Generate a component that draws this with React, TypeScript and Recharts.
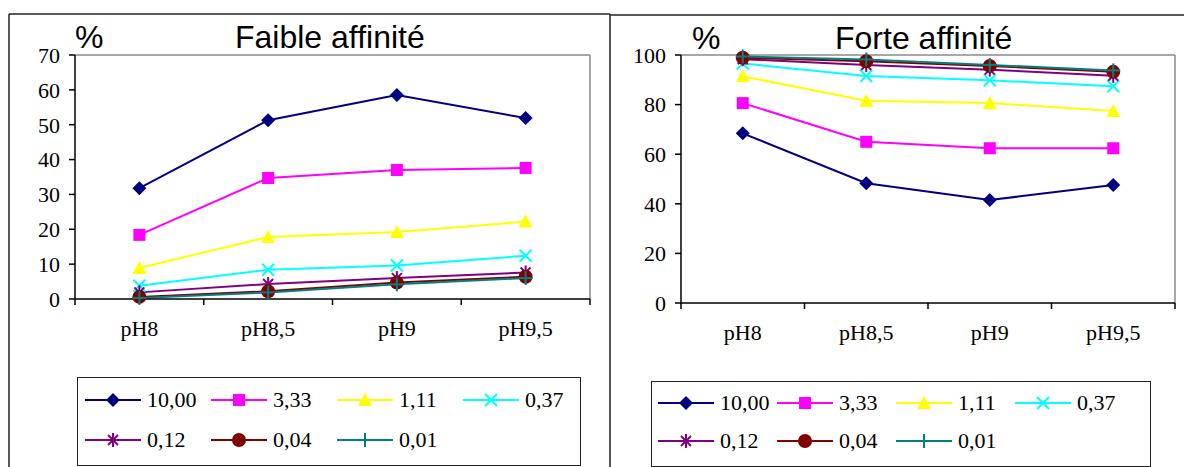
import React from 'react';
import { LineChart, Line, XAxis, YAxis, ReferenceLine } from 'recharts';

const categories = ['pH8', 'pH8,5', 'pH9', 'pH9,5'];
const seriesNames = ['10,00', '3,33', '1,11', '0,37', '0,12', '0,04', '0,01'];
const seriesColors = ['#000080', '#ff00ff', '#ffff00', '#00ffff', '#800080', '#800000', '#008080'];
const seriesShapes = ['diamond', 'square', 'triangle', 'cross', 'star', 'circle', 'plus'];

// Faible affinité (%)
const faible1000 = [31.8, 51.3, 58.5, 51.9];
const faible333 = [18.4, 34.7, 37.0, 37.6];
const faible111 = [8.9, 17.8, 19.2, 22.2];
const faible037 = [3.8, 8.4, 9.6, 12.4];
const faible012 = [1.9, 4.3, 6.0, 7.6];
const faible004 = [0.6, 2.2, 4.7, 6.4];
const faible001 = [0.3, 1.9, 4.2, 6.0];

// Forte affinité (%)
const forte1000 = [68.4, 48.3, 41.5, 47.6];
const forte333 = [80.6, 65.0, 62.4, 62.4];
const forte111 = [91.4, 81.6, 80.6, 77.4];
const forte037 = [96.6, 91.5, 89.8, 87.4];
const forte012 = [98.3, 96.0, 94.1, 91.6];
const forte004 = [98.9, 97.5, 95.6, 93.2];
const forte001 = [99.4, 98.2, 96.0, 93.8];

const faibleTicks = [0, 10, 20, 30, 40, 50, 60, 70];
const forteTicks = [0, 20, 40, 60, 80, 100];

const SERIF = '"Liberation Serif", "Times New Roman", serif';
const SANS = '"Liberation Sans", Arial, sans-serif';

const buildData = (series: number[][]) =>
  categories.map((c, i) => {
    const row: Record<string, number | string> = { x: i + 0.5, cat: c };
    series.forEach((s, k) => {
      row[`s${k}`] = s[i];
    });
    return row;
  });

const faibleData = buildData([faible1000, faible333, faible111, faible037, faible012, faible004, faible001]);
const forteData = buildData([forte1000, forte333, forte111, forte037, forte012, forte004, forte001]);

// category centres sit on the halves, boundary ticks on the integers
const xTicks = [0, 0.5, 1, 1.5, 2, 2.5, 3, 3.5, 4];

function Marker({ shape, color, cx, cy }: { shape: string; color: string; cx: number; cy: number }) {
  switch (shape) {
    case 'diamond':
      return <polygon points={`${cx},${cy - 7} ${cx + 7},${cy} ${cx},${cy + 7} ${cx - 7},${cy}`} fill={color} />;
    case 'square':
      return <rect x={cx - 6} y={cy - 6} width={12} height={12} fill={color} />;
    case 'triangle':
      return <polygon points={`${cx},${cy - 7} ${cx + 7},${cy + 6} ${cx - 7},${cy + 6}`} fill={color} />;
    case 'cross':
      return (
        <g stroke={color} strokeWidth={2}>
          <line x1={cx - 6} y1={cy - 6} x2={cx + 6} y2={cy + 6} />
          <line x1={cx - 6} y1={cy + 6} x2={cx + 6} y2={cy - 6} />
        </g>
      );
    case 'star':
      return (
        <g stroke={color} strokeWidth={2}>
          <line x1={cx - 5} y1={cy - 5} x2={cx + 5} y2={cy + 5} />
          <line x1={cx - 5} y1={cy + 5} x2={cx + 5} y2={cy - 5} />
          <line x1={cx} y1={cy - 7} x2={cx} y2={cy + 7} />
        </g>
      );
    case 'circle':
      return <circle cx={cx} cy={cy} r={7} fill={color} />;
    case 'plus':
      return (
        <g stroke={color} strokeWidth={2}>
          <line x1={cx - 7} y1={cy} x2={cx + 7} y2={cy} />
          <line x1={cx} y1={cy - 7} x2={cx} y2={cy + 7} />
        </g>
      );
    default:
      return null;
  }
}

function XTick(props: any) {
  const { x, y, payload } = props;
  const v = payload.value as number;
  if (Number.isInteger(v)) {
    return <line x1={x} y1={y} x2={x} y2={y + 6} stroke="#000" strokeWidth={1.5} />;
  }
  return (
    <text x={x} y={y + 37} textAnchor="middle" fontFamily={SERIF} fontSize={22} fill="#000">
      {categories[Math.floor(v)]}
    </text>
  );
}

type PanelProps = {
  data: Record<string, number | string>[];
  max: number;
  ticks: number[];
  left: number;
  width: number;
  margin: { top: number; right: number; bottom: number; left: number };
};

function Panel({ data, max, ticks, left, width, margin }: PanelProps) {
  return (
    <div style={{ position: 'absolute', left, top: 0 }}>
      <LineChart width={width} height={370} data={data} margin={margin}>
        <XAxis
          dataKey="x"
          type="number"
          domain={[0, 4]}
          ticks={xTicks}
          interval={0}
          tickSize={0}
          tickMargin={0}
          tickLine={false}
          axisLine={{ stroke: '#000', strokeWidth: 1.5 }}
          tick={<XTick />}
          height={40}
        />
        <YAxis
          domain={[0, max]}
          ticks={ticks}
          interval={0}
          width={60}
          tickSize={6}
          tickMargin={9}
          axisLine={{ stroke: '#000', strokeWidth: 1.5 }}
          tickLine={{ stroke: '#000', strokeWidth: 1.5 }}
          tick={{ fill: '#000', fontSize: 22, fontFamily: SERIF }}
        />
        <ReferenceLine y={max} stroke="#8a8a8a" strokeWidth={1.5} />
        <ReferenceLine x={4} stroke="#8a8a8a" strokeWidth={1.5} />
        {seriesNames.map((name, k) => (
          <Line
            key={name}
            dataKey={`s${k}`}
            name={name}
            stroke={seriesColors[k]}
            strokeWidth={2}
            isAnimationActive={false}
            dot={(p: any) => (
              <Marker key={`${name}-${p.index}`} shape={seriesShapes[k]} color={seriesColors[k]} cx={p.cx} cy={p.cy} />
            )}
            activeDot={false}
          />
        ))}
      </LineChart>
    </div>
  );
}

function LegendBox({ left, top, width, height, padX, colW, rows }: { left: number; top: number; width: number; height: number; padX: number; colW: number; rows: number[] }) {
  return (
    <div
      style={{
        position: 'absolute',
        left,
        top,
        width,
        height,
        border: '1.5px solid #222',
        boxSizing: 'border-box',
        background: '#fff',
      }}
    >
      {seriesNames.map((name, k) => {
        const col = k % 4;
        const row = Math.floor(k / 4);
        return (
          <div
            key={name}
            style={{
              position: 'absolute',
              left: padX + col * colW,
              top: rows[row] - 12,
              height: 24,
              display: 'flex',
              alignItems: 'center',
              whiteSpace: 'nowrap',
            }}
          >
            <svg width={56} height={24} style={{ display: 'block' }}>
              <line x1={0} y1={12} x2={56} y2={12} stroke={seriesColors[k]} strokeWidth={2} />
              <Marker shape={seriesShapes[k]} color={seriesColors[k]} cx={28} cy={12} />
            </svg>
            <span style={{ marginLeft: 6, fontFamily: SERIF, fontSize: 22, lineHeight: '24px', color: '#000' }}>{name}</span>
          </div>
        );
      })}
    </div>
  );
}

export default function App() {
  return (
    <div style={{ position: 'absolute', left: 0, top: 0, width: 1184, height: 467, background: '#fff', overflow: 'hidden' }}>
      <svg width={1184} height={467} style={{ position: 'absolute', left: 0, top: 0 }}>
        <g stroke="#222" strokeWidth={1.5} fill="none">
          <line x1={9} y1={14} x2={610} y2={14} />
          <line x1={9} y1={14} x2={9} y2={467} />
          <line x1={610} y1={14} x2={610} y2={467} />
          <line x1={610} y1={15} x2={1184} y2={15} />
        </g>
        <g fontFamily={SANS} fontSize={32} fill="#000">
          <text x={75} y={48}>%</text>
          <text x={235} y={48}>Faible affinité</text>
          <text x={692} y={49}>%</text>
          <text x={835} y={49}>Forte affinité</text>
        </g>
      </svg>
      <Panel data={faibleData} max={70} ticks={faibleTicks} left={0} width={610} margin={{ top: 55, right: 20, bottom: 31, left: 15 }} />
      <Panel data={forteData} max={100} ticks={forteTicks} left={610} width={574} margin={{ top: 55, right: 9, bottom: 27, left: 11 }} />
      <LegendBox left={77} top={377} width={504} height={89} padX={7} colW={126} rows={[22, 62]} />
      <LegendBox left={651} top={381} width={500} height={86} padX={6} colW={119} rows={[21, 59]} />
    </div>
  );
}
